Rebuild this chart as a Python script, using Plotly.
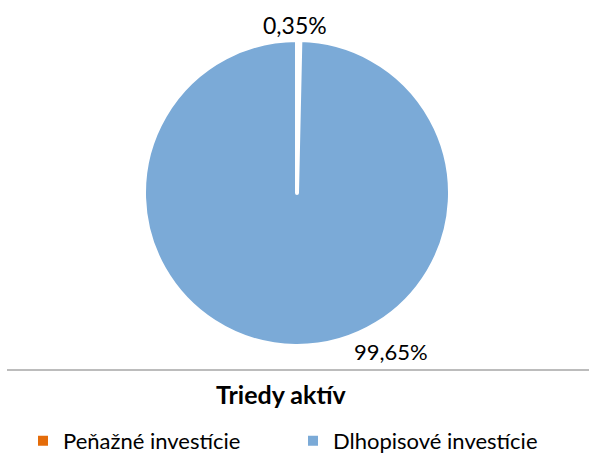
import plotly.graph_objects as go

labels = ["Peňažné investície", "Dlhopisové investície"]
values = [0.35, 99.65]
colors = ["#E46C0A", "#7BAAD7"]
title_text = "Triedy aktív"

FONT = "Lato, 'Noto Sans', sans-serif"
W, H = 589, 455

fig = go.Figure()
fig.add_trace(go.Pie(
    labels=labels,
    values=values,
    sort=False,
    direction="clockwise",
    rotation=0,
    marker=dict(colors=colors, line=dict(color="white", width=4)),
    textinfo="none",
    hoverinfo="label+percent",
    domain=dict(x=[144/W, 450/W], y=[109/H, 415/H]),
))

def fmt(v):
    return ("%.2f" % v).replace(".", ",") + "%"

# data labels
fig.add_annotation(x=295/W, y=(H-25)/H, xref="paper", yref="paper",
                   xanchor="center", yanchor="middle",
                   text=fmt(values[0]), showarrow=False,
                   font=dict(family=FONT, size=23, color="#000000"))
fig.add_annotation(x=391/W, y=(H-351)/H, xref="paper", yref="paper",
                   xanchor="center", yanchor="middle",
                   text=fmt(values[1]), showarrow=False,
                   font=dict(family=FONT, size=22, color="#000000"))

# separator line
fig.add_shape(type="line", xref="paper", yref="paper",
              x0=7/W, x1=1, y0=(H-370)/H, y1=(H-370)/H,
              line=dict(color="#A6A6A6", width=1.5))

# title
fig.add_annotation(x=281/W, y=(H-394)/H, xref="paper", yref="paper",
                   xanchor="center", yanchor="middle",
                   text="<b>" + title_text + "</b>", showarrow=False,
                   font=dict(family=FONT, size=25, color="#000000"))

fig.update_layout(
    width=W, height=H,
    margin=dict(l=0, r=0, t=0, b=0, autoexpand=False),
    paper_bgcolor="white",
    plot_bgcolor="white",
    font=dict(family=FONT, size=22, color="#000000"),
    showlegend=True,
    legend=dict(orientation="h", x=23/W, y=(H-441)/H, yanchor="middle",
                xanchor="left", entrywidth=225, entrywidthmode="pixels",
                font=dict(family=FONT, size=22, color="#000000"),
                itemsizing="constant", bgcolor="rgba(0,0,0,0)"),
)

fig.write_html("out.html",
               config={"displayModeBar": False},
               post_script="document.body.style.margin='0';document.body.style.padding='0';")
